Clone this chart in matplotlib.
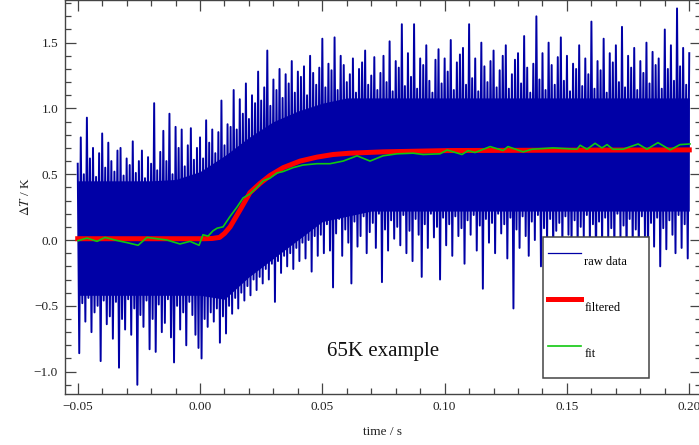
import numpy as np
import matplotlib
matplotlib.use("Agg")
import matplotlib.pyplot as plt

plt.rcParams["font.family"] = ["Liberation Serif", "DejaVu Serif"]
plt.rcParams["mathtext.fontset"] = "stix"

# raw data: local max / min of the trace every 1.25 ms from -0.05 s to 0.20 s
raw_hi = [0.58, 0.78, 0.50, 0.93, 0.62, 0.70, 0.48, 0.66, 0.81, 0.55,
          0.74, 0.60, 0.52, 0.68, 0.70, 0.49, 0.62, 0.57, 0.75, 0.51,
          0.60, 0.68, 0.47, 0.63, 0.58, 1.04, 0.53, 0.67, 0.83, 0.60,
          0.96, 0.50, 0.86, 0.70, 0.84, 0.56, 0.72, 0.85, 0.61, 0.70,
          0.78, 0.62, 0.91, 0.74, 0.84, 0.66, 0.82, 1.06, 0.72, 0.88,
          0.86, 1.14, 0.84, 1.07, 0.96, 1.19, 0.92, 1.10, 1.04, 1.28,
          1.06, 1.16, 1.44, 1.02, 1.22, 1.14, 1.30, 1.08, 1.26, 1.19,
          1.36, 1.12, 1.28, 1.24, 1.32, 1.10, 1.40, 1.27, 1.18, 1.31,
          1.53, 1.16, 1.34, 1.29, 1.54, 1.14, 1.40, 1.33, 1.20, 1.26,
          1.38, 1.12, 1.30, 1.35, 1.44, 1.18, 1.25, 1.39, 1.14, 1.27,
          1.40, 1.20, 1.51, 1.13, 1.36, 1.31, 1.64, 1.17, 1.42, 1.24,
          1.64, 1.15, 1.38, 1.33, 1.48, 1.21, 1.12, 1.37, 1.45, 1.19,
          1.38, 1.28, 1.52, 1.14, 1.35, 1.41, 1.46, 1.18, 1.64, 1.23,
          1.38, 1.13, 1.50, 1.32, 1.20, 1.36, 1.44, 1.16, 1.29, 1.40,
          1.48, 1.15, 1.26, 1.37, 1.42, 1.19, 1.55, 1.31, 1.12, 1.34,
          1.70, 1.22, 1.42, 1.14, 1.50, 1.33, 1.18, 1.39, 1.54, 1.21,
          1.40, 1.13, 1.34, 1.30, 1.48, 1.17, 1.38, 1.26, 1.66, 1.15,
          1.36, 1.29, 1.53, 1.12, 1.42, 1.35, 1.48, 1.20, 1.62, 1.16,
          1.40, 1.31, 1.46, 1.14, 1.36, 1.27, 1.50, 1.19, 1.43, 1.33,
          1.38, 1.15, 1.60, 1.30, 1.48, 1.21, 1.76, 1.32, 1.46, 1.18,
          1.42]
raw_lo = [-0.86, -0.48, -0.62, -0.44, -0.70, -0.55, -0.50, -0.92, -0.46, -0.64,
          -0.58, -0.75, -0.47, -0.97, -0.60, -0.68, -0.45, -0.72, -0.52, -1.10,
          -0.57, -0.66, -0.46, -0.83, -0.60, -0.85, -0.49, -0.70, -0.63, -0.45,
          -0.74, -0.93, -0.50, -0.68, -0.55, -0.80, -0.47, -0.57, -0.72, -0.82,
          -0.90, -0.60, -0.66, -0.55, -0.62, -0.52, -0.78, -0.58, -0.71, -0.50,
          -0.56, -0.44, -0.52, -0.40, -0.46, -0.35, -0.42, -0.30, -0.38, -0.28,
          -0.33, -0.22, -0.30, -0.18, -0.47, -0.16, -0.25, -0.12, -0.20, -0.10,
          -0.22, -0.06, -0.16, -0.02, -0.14, 0.00, -0.24, 0.03, -0.12, 0.04,
          -0.10, 0.12, -0.08, -0.36, 0.05, 0.16, -0.12, 0.08, -0.02, -0.33,
          0.14, -0.05, 0.03, 0.18, -0.10, 0.06, 0.13, -0.06, 0.20, -0.32,
          0.08, -0.08, 0.15, 0.01, 0.10, -0.04, 0.19, -0.10, 0.07, -0.16,
          0.16, 0.04, -0.28, 0.12, -0.06, 0.20, 0.02, 0.10, -0.30, 0.17,
          -0.04, 0.12, -0.12, 0.18, 0.03, 0.09, -0.18, 0.15, 0.04, 0.19,
          -0.08, 0.11, -0.37, 0.16, -0.02, 0.13, -0.10, 0.20, 0.05, 0.12,
          -0.14, 0.17, -0.52, 0.08, -0.06, 0.18, 0.03, -0.12, 0.14, 0.00,
          0.19, -0.20, 0.09, -0.04, 0.16, -0.10, 0.07, 0.13, -0.06, 0.18,
          0.04, -0.05, 0.15, -0.08, 0.10, 0.02, 0.19, -0.03, 0.12, -0.18,
          0.14, -0.06, 0.17, 0.01, 0.09, -0.10, 0.20, 0.02, 0.11, -0.14,
          0.16, -0.06, 0.08, -0.08, 0.18, 0.03, -0.12, 0.13, -0.05, 0.17,
          -0.20, 0.09, -0.07, 0.15, 0.04, -0.10, 0.19, -0.06, 0.12, -0.14,
          -0.08]
raw_t = np.linspace(-0.05, 0.20, len(raw_hi))

# solid core of the noise band, every 10 ms
core_hi = [0.45, 0.45, 0.45, 0.45, 0.46, 0.52, 0.64, 0.78, 0.90, 0.98,
           1.04, 1.08, 1.08, 1.08, 1.08, 1.08, 1.08, 1.08, 1.08, 1.08,
           1.08, 1.08, 1.08, 1.08, 1.08, 1.08]
core_lo = [-0.42, -0.42, -0.42, -0.42, -0.42, -0.42, -0.45, -0.28, -0.14, 0.00,
           0.14, 0.18, 0.22, 0.22, 0.22, 0.22, 0.22, 0.22, 0.22, 0.22,
           0.22, 0.22, 0.22, 0.22, 0.22, 0.22]
core_t = np.linspace(-0.05, 0.20, len(core_hi))

# filtered trace
filt_t = [-0.05, -0.02, 0.0, 0.002, 0.005, 0.008, 0.010, 0.0123, 0.0164, 0.0204,
          0.0245, 0.0286, 0.034, 0.0409, 0.0478, 0.0544, 0.0613, 0.0748, 0.102, 0.15, 0.20]
filt_y = [0.01, 0.01, 0.01, 0.01, 0.012, 0.02, 0.05, 0.10, 0.23, 0.36,
          0.43, 0.49, 0.55, 0.60, 0.63, 0.65, 0.66, 0.67, 0.68, 0.683, 0.685]

# fit trace
fit_t = [-0.0499, -0.0462, -0.0421, -0.0388, -0.0348, -0.0298, -0.0253, -0.0217, -0.0176, -0.0135,
         -0.0082, -0.0041, -0.0004, 0.0012, 0.0033, 0.0053, 0.0070, 0.0094, 0.0123, 0.0151,
         0.0176, 0.0204, 0.0233, 0.0258, 0.0286, 0.0315, 0.0339, 0.0380, 0.0421, 0.0478,
         0.0531, 0.0585, 0.0642, 0.0695, 0.0748, 0.0805, 0.0871, 0.0912, 0.0981, 0.1010,
         0.1071, 0.1096, 0.1124, 0.1186, 0.1239, 0.1259, 0.1321, 0.1357, 0.1443, 0.1541,
         0.1554, 0.1582, 0.1615, 0.1643, 0.1664, 0.1688, 0.1729, 0.1791, 0.1827, 0.1872,
         0.1922, 0.1962, 0.2003]
fit_y = [-0.005, 0.015, -0.01, 0.02, 0.0, -0.02, -0.04, 0.02, 0.01, 0.0,
         -0.03, -0.01, -0.04, 0.04, 0.03, 0.07, 0.09, 0.10, 0.18, 0.25,
         0.32, 0.35, 0.40, 0.45, 0.47, 0.51, 0.52, 0.55, 0.57, 0.58,
         0.58, 0.60, 0.64, 0.60, 0.64, 0.655, 0.66, 0.65, 0.655, 0.684,
         0.65, 0.68, 0.665, 0.71, 0.68, 0.71, 0.67, 0.69, 0.70, 0.69,
         0.72, 0.69, 0.735, 0.70, 0.725, 0.69, 0.69, 0.73, 0.69, 0.74,
         0.685, 0.725, 0.73]

BLUE = "#0000A6"
RED = "#FF0000"
GREEN = "#10C810"

# interleave maxima and minima so the raw trace swings up and down like the sampled signal
half = (raw_t[1] - raw_t[0]) / 2
zz_t = np.empty(2 * len(raw_t))
zz_y = np.empty(2 * len(raw_t))
zz_t[0::2] = raw_t
zz_t[1::2] = raw_t + half
zz_y[0::2] = raw_hi
zz_y[1::2] = raw_lo
keep = zz_t <= 0.2001

fig = plt.figure(figsize=(6.99, 4.45), dpi=100)
ax = fig.add_axes([65 / 699, 51 / 445, 636 / 699, 394 / 445])

ax.fill_between(core_t, core_lo, core_hi, color=BLUE, lw=0, label="_nolegend_")
ax.plot(zz_t[keep], zz_y[keep], color=BLUE, lw=1.4, label="raw data")
ax.plot(filt_t, filt_y, color=RED, lw=3.6, label="filtered")
ax.plot(fit_t, fit_y, color=GREEN, lw=1.2, label="fit")

ax.set_xlim(-0.0552, 0.2048)
ax.set_ylim(-1.170, 1.824)
ax.set_xticks([-0.05, 0.0, 0.05, 0.10, 0.15, 0.20])
ax.set_xticklabels(["\u22120.05", "0.00", "0.05", "0.10", "0.15", "0.20"])
ax.set_xticks(np.arange(-0.05, 0.2051, 0.01), minor=True)
ax.set_yticks([-1.0, -0.5, 0.0, 0.5, 1.0, 1.5])
ax.set_yticklabels(["\u22121.0", "\u22120.5", "0.0", "0.5", "1.0", "1.5"])
ax.set_yticks(np.arange(-1.1, 1.81, 0.1), minor=True)

ax.tick_params(which="both", direction="in", top=True, right=True,
               color="#444444", width=0.9)
ax.tick_params(which="major", length=8, labelsize=9.5, labelcolor="#222222", pad=5)
ax.tick_params(which="minor", length=4.5)
ax.tick_params(labeltop=False, labelright=False)
for s in ax.spines.values():
    s.set_color("#444444")
    s.set_linewidth(1.0)

ax.set_xlabel("time / s", fontsize=9.5, color="#222222")
ax.set_ylabel(r"$\Delta T$ / K", fontsize=9.5, color="#222222")
ax.xaxis.set_label_coords(0.5, -0.08)
ax.yaxis.set_label_coords(-0.052, 0.5)

ax.text(0.5, 0.107, "65K example", transform=ax.transAxes,
        ha="center", va="center", fontsize=15, color="#111111")

leg = ax.legend(loc="upper left", bbox_to_anchor=(0.7516, 0.0406, 0.1664, 0.3579),
                mode="expand", fontsize=9, handlelength=2.64, handletextpad=0.25,
                handleheight=4.4, labelspacing=0.59, borderpad=0.4,
                borderaxespad=0, fancybox=False, framealpha=1)
for h in leg.get_lines():
    if h.get_label() == "raw data":
        h.set_linewidth(0.9)
leg.get_frame().set_edgecolor("#444444")
leg.get_frame().set_linewidth(1.1)

fig.savefig("out.png", dpi=100)
